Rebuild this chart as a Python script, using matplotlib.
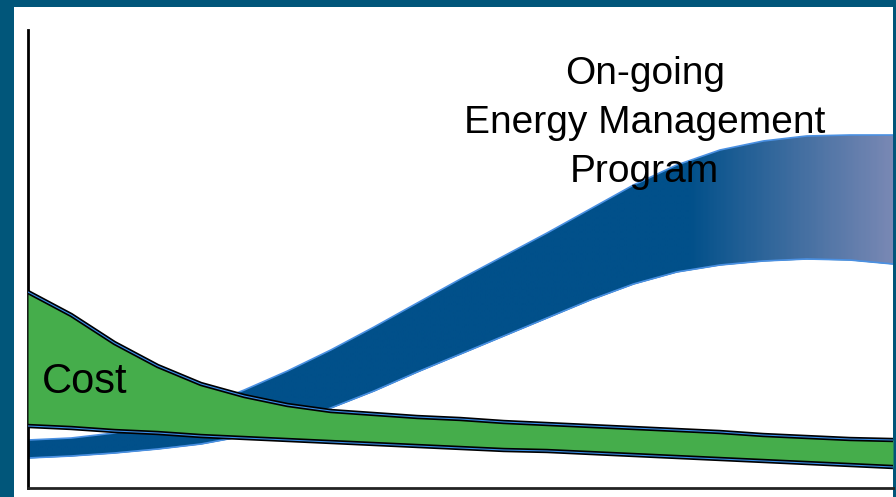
import matplotlib.pyplot as plt
import matplotlib.patches as mpatches
import numpy as np
from matplotlib.colors import LinearSegmentedColormap

# time axis (arbitrary units)
x = np.arange(0, 10.5, 0.5)

# cost band
cost_top = [19.6, 17.3, 14.5, 12.2, 10.4, 9.2, 8.3, 7.7, 7.4, 7.1, 6.9,
            6.6, 6.4, 6.2, 6.0, 5.8, 5.6, 5.3, 5.1, 4.9, 4.8]
cost_bottom = [6.2, 6.0, 5.7, 5.5, 5.2, 5.0, 4.8, 4.6, 4.4, 4.2, 4.0,
               3.8, 3.7, 3.5, 3.3, 3.1, 2.9, 2.7, 2.5, 2.3, 2.1]

# savings band of the energy management program
prog_top = [4.8, 5.0, 5.5, 6.6, 8.1, 9.8, 11.7, 13.8, 16.1, 18.5, 20.9,
            23.2, 25.5, 27.9, 30.3, 32.3, 33.8, 34.7, 35.2, 35.3, 35.3]
prog_bottom = [3.0, 3.2, 3.5, 3.9, 4.4, 5.2, 6.4, 8.0, 9.7, 11.6, 13.4,
               15.2, 17.0, 18.8, 20.4, 21.6, 22.3, 22.7, 22.9, 22.8, 22.4]

prog_label = "On-going\nEnergy Management\nProgram"
cost_label = "Cost"

fig = plt.figure(figsize=(8.96, 4.97), dpi=100)
fig.set_facecolor("#01567a")
fig.patches.append(mpatches.Rectangle((14 / 896, 0), 879 / 896, 490 / 497,
                                      transform=fig.transFigure,
                                      facecolor="white", edgecolor="none", zorder=-10))

ax = fig.add_axes([28 / 896, 9 / 497, 865 / 896, 458 / 497])
ax.set_facecolor("none")
ax.set_xlim(0, 10)
ax.set_ylim(0, 45.8)

# program band with a fade toward the right end
band = ax.fill_between(x, prog_bottom, prog_top, color="#01508a", lw=0, zorder=1)
fade = LinearSegmentedColormap.from_list(
    "fade", [(0, "#01508a"), (0.765, "#01508a"), (1, "#7988b4")])
grad = np.linspace(0, 1, 400).reshape(1, -1)
img = ax.imshow(grad, cmap=fade, extent=(0, 10, 0, 45.8), aspect="auto",
                interpolation="bilinear", zorder=1.5)
img.set_clip_path(band.get_paths()[0], transform=ax.transData)
ax.plot(x, prog_top, color="#4a90e2", lw=1.2, zorder=2)
ax.plot(x, prog_bottom, color="#4a90e2", lw=1.2, zorder=2)

# cost band
ax.fill_between(x, cost_bottom, cost_top, color="#45ad4b", lw=0, zorder=3)
for edge in (cost_top, cost_bottom):
    ax.plot(x, edge, color="black", lw=3.2, zorder=4, solid_capstyle="butt")
    ax.plot(x, edge, color="#3a8de6", lw=0.8, zorder=5)

ax.text(0.16, 9.5, cost_label, fontsize=30, family="Liberation Sans",
        ha="left", va="baseline", zorder=6)
ax.text(7.13, 36.5, prog_label, fontsize=28, family="Liberation Sans",
        ha="center", va="center", linespacing=1.47, zorder=6)

for side in ("top", "right"):
    ax.spines[side].set_visible(False)
ax.spines["left"].set_linewidth(2)
ax.spines["bottom"].set_linewidth(2)
ax.spines["bottom"].set_color("#222222")
ax.set_xticks([])
ax.set_yticks([])

fig.savefig("out.png", dpi=100, facecolor=fig.get_facecolor())
